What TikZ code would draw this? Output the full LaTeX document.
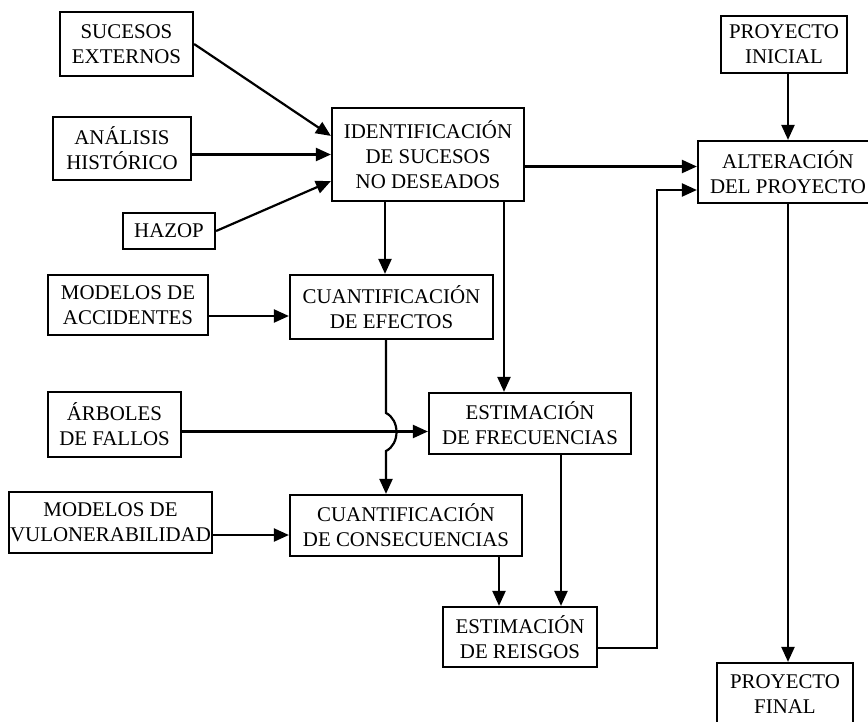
\documentclass[tikz,border=0pt]{standalone}
\usepackage{fontspec}
\setmainfont{Liberation Serif}
\usetikzlibrary{arrows.meta}
\tikzset{
  box/.style={draw, line width=2.2pt, inner sep=0pt, align=center,
    font=\fontsize{20.9}{25}\selectfont},
  conn/.style={line width=2.2pt, -{Triangle[length=15pt,width=13pt]}}
}
\begin{document}
\begin{tikzpicture}[x=1pt,y=-1pt]
\useasboundingbox (0,0) rectangle (868,721);
% nodes
\node[box, minimum width=133pt, minimum height=64pt] (se)  at (126.5,44)  {SUCESOS\\EXTERNOS};
\node[box, minimum width=138pt, minimum height=63pt] (ah)  at (122,148.5) {ANÁLISIS\\HISTÓRICO};
\node[box, minimum width=92pt,  minimum height=36pt] (hz)  at (169,231)   {HAZOP};
\node[box, minimum width=192pt, minimum height=93pt] (id)  at (428,154.5) {IDENTIFICACIÓN\\DE SUCESOS\\NO DESEADOS};
\node[box, minimum width=126pt, minimum height=57pt] (pi)  at (784,44.5)  {PROYECTO\\INICIAL};
\node[box, minimum width=180pt, minimum height=62pt] (alt) at (788,172)   {ALTERACIÓN\\DEL PROYECTO};
\node[box, minimum width=160pt, minimum height=60pt] (ma)  at (128,305)   {MODELOS DE\\ACCIDENTES};
\node[box, minimum width=203pt, minimum height=64pt] (ce)  at (391.5,307) {CUANTIFICACIÓN\\DE EFECTOS};
\node[box, minimum width=133pt, minimum height=65pt] (af)  at (114.5,424.5) {ÁRBOLES\\DE FALLOS};
\node[box, minimum width=202pt, minimum height=61pt] (ef)  at (530,423.5) {ESTIMACIÓN\\DE FRECUENCIAS};
\node[box, minimum width=203pt, minimum height=61pt] (vul) at (110.5,522.5) {MODELOS DE\\VULONERABILIDAD};
\node[box, minimum width=232pt, minimum height=61pt] (cc)  at (406,525.5) {CUANTIFICACIÓN\\DE CONSECUENCIAS};
\node[box, minimum width=154pt, minimum height=60pt] (re)  at (520,637)   {ESTIMACIÓN\\DE REISGOS};
\node[box, minimum width=136pt, minimum height=62pt] (pf)  at (785,694)   {PROYECTO\\FINAL};
% helper coordinates
\coordinate (j1) at (386,413);
\coordinate (j2) at (386,451);
\coordinate (idA) at ([yshift=-12pt]id.east);
\coordinate (maA) at ([yshift=-11pt]ma.east);
\coordinate (afA) at ([yshift=-7pt]af.east);
\coordinate (vulA) at ([yshift=-12.5pt]vul.east);
\coordinate (idB) at ([xshift=-43pt]id.south);
\coordinate (idC) at ([xshift=76pt]id.south);
\coordinate (ccA) at ([xshift=93pt]cc.south);
\coordinate (efA) at ([xshift=31pt]ef.south);
\coordinate (reA) at ([yshift=-11pt]re.east);
\coordinate (altA) at ([yshift=-18pt]alt.west);
\coordinate (altB) at ([xshift=-40pt,yshift=-18pt]alt.west);
% connectors
\draw[conn] (se.east) -- ([yshift=-29pt]id.north west);
\draw[conn] (ah.east |- id.west) -- (id.west);
\draw[conn] (hz.east) -- ([yshift=21pt]id.south west);
\draw[conn] (idB) -- (idB |- ce.north);
\draw[conn] (idC) -- (idC |- ef.north);
\draw[conn] (idA) -- (alt.west |- idA);
\draw[conn] (pi.south -| alt.north) -- (alt.north);
\draw[conn] (maA) -- (ce.west |- maA);
\draw[conn] (ce.south -| j1) -- (j1) .. controls (400,420) and (400,444) .. (j2) -- (cc.north -| j2);
\draw[conn] (afA) -- (ef.west |- afA);
\draw[conn] (vulA) -- (cc.west |- vulA);
\draw[conn] (ccA) -- (ccA |- re.north);
\draw[conn] (efA) -- (efA |- re.north);
\draw[conn] (reA) -| (altB) -- (altA);
\draw[conn] (alt.south) -- (pf.north -| alt.south);
\end{tikzpicture}
\end{document}
